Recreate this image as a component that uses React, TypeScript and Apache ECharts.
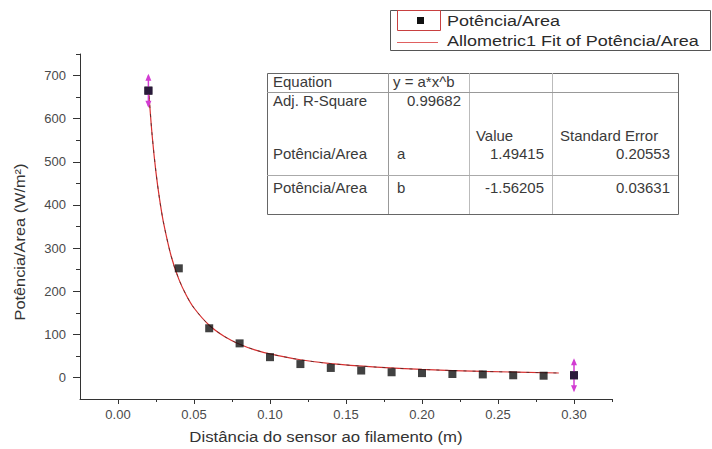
import React, { useEffect, useRef } from "react";
import * as echarts from "echarts";

// ---- data ----
const distances = [0.02, 0.04, 0.06, 0.08, 0.1, 0.12, 0.14, 0.16, 0.18, 0.2, 0.22, 0.24, 0.26, 0.28, 0.3];
const powerPerArea = [665, 253, 114, 79, 47, 31, 22, 16, 12, 10, 8, 7, 5, 4, 5];

// Allometric1 fit curve
const fitX = [0.02, 0.0225, 0.025, 0.0275, 0.03, 0.035, 0.04, 0.045, 0.05, 0.06, 0.07, 0.08, 0.09, 0.1, 0.12, 0.14, 0.17, 0.2, 0.24, 0.29];
const fitY = [673, 560, 475, 410, 358, 281, 228, 190, 161, 121, 95, 77, 64, 54.5, 41, 32, 24, 18.5, 14, 10.3];

const xMajorTicks = [0, 0.05, 0.1, 0.15, 0.2, 0.25, 0.3];
const xMinorTicks = [0.025, 0.075, 0.125, 0.175, 0.225, 0.275, 0.325];
const yMajorTicks = [0, 100, 200, 300, 400, 500, 600, 700];
const yMinorTicks = [50, 150, 250, 350, 450, 550, 650, 750];

const seriesName = "Potência/Area";
const fitName = "Allometric1 Fit of Potência/Area";
const xTitle = "Distância do sensor ao filamento (m)";
const yTitle = "Potência/Area (W/m²)";

// fit-result table
const tableEquation = ["Equation", "y = a*x^b"];
const tableRSquare = ["Adj. R-Square", "0.99682"];
const tableHeader = ["Value", "Standard Error"];
const tableRowA = ["Potência/Area", "a", "1.49415", "0.20553"];
const tableRowB = ["Potência/Area", "b", "-1.56205", "0.03631"];

const FONT = "'Liberation Sans', Arial, sans-serif";
const MAGENTA = "#d23cd2";
const FIT_RED = "#d83030";

function txt(text: string, x: number, y: number, opts: any = {}) {
  return {
    type: "text",
    x,
    y,
    scaleX: opts.scaleX ?? 1.07,
    scaleY: opts.scaleY ?? 1,
    rotation: opts.rotation ?? 0,
    silent: true,
    style: {
      text,
      fontFamily: FONT,
      fontSize: opts.fontSize ?? 14,
      fill: opts.fill ?? "#3a3a3a",
      align: opts.align ?? "left",
      verticalAlign: "middle",
    },
  };
}

function hline(x1: number, x2: number, y: number, stroke: string) {
  return { type: "line", silent: true, shape: { x1, y1: y, x2, y2: y }, style: { stroke, lineWidth: 1 } };
}
function vline(x: number, y1: number, y2: number, stroke: string) {
  return { type: "line", silent: true, shape: { x1: x, y1, x2: x, y2 }, style: { stroke, lineWidth: 1 } };
}

export default function App() {
  const ref = useRef<HTMLDivElement>(null);

  useEffect(() => {
    if (!ref.current) return;
    const chart = echarts.init(ref.current, undefined, { renderer: "svg" });

    const points = distances.map((x, i) => [x, powerPerArea[i]]);
    const fitPoints = fitX.map((x, i) => [x, fitY[i]]);
    const markerPoints = [points[0], points[points.length - 1]];

    const axisLineStyle = { color: "#333", width: 1 };
    const tickLabelStyle = { fontFamily: FONT, fontSize: 13, color: "#4a4a4a" };

    // table geometry
    const tL = 267, tR = 678, tT = 73, tB = 214;
    const c1 = 388, c2 = 469, c3 = 552;
    const r1 = 92, r2 = 175;

    const option: any = {
      animation: false,
      backgroundColor: "#ffffff",
      textStyle: { fontFamily: FONT },
      grid: { left: 80, right: 100, top: 54, bottom: 50, containLabel: false },
      xAxis: [
        {
          type: "value",
          min: -0.025,
          max: 0.325,
          axisLine: { show: true, onZero: false, lineStyle: axisLineStyle },
          axisTick: { show: true, length: 5, customValues: xMajorTicks, lineStyle: axisLineStyle },
          axisLabel: {
            show: true,
            customValues: xMajorTicks,
            margin: 9,
            formatter: (v: number) => v.toFixed(2),
            ...tickLabelStyle,
          },
          splitLine: { show: false },
        },
        {
          type: "value",
          position: "bottom",
          min: -0.025,
          max: 0.325,
          axisLine: { show: false, onZero: false },
          axisTick: { show: true, length: 3, customValues: xMinorTicks, lineStyle: axisLineStyle },
          axisLabel: { show: false },
          splitLine: { show: false },
        },
      ],
      yAxis: [
        {
          type: "value",
          position: "left",
          min: -50,
          max: 750,
          axisLine: { show: true, onZero: false, lineStyle: axisLineStyle },
          axisTick: { show: true, length: 7, customValues: yMajorTicks, lineStyle: axisLineStyle },
          axisLabel: {
            show: true,
            customValues: yMajorTicks,
            margin: 14,
            formatter: (v: number) => String(Math.round(v)),
            ...tickLabelStyle,
          },
          splitLine: { show: false },
        },
        {
          type: "value",
          position: "left",
          min: -50,
          max: 750,
          axisLine: { show: false, onZero: false },
          axisTick: { show: true, length: 4, customValues: yMinorTicks, lineStyle: axisLineStyle },
          axisLabel: { show: false },
          splitLine: { show: false },
        },
      ],
      series: [
        {
          name: fitName,
          type: "line",
          data: fitPoints,
          smooth: 0.3,
          showSymbol: false,
          symbol: "none",
          lineStyle: { color: FIT_RED, width: 1.2 },
          z: 2,
          silent: true,
        },
        {
          name: fitName + " overlay",
          type: "line",
          data: fitPoints,
          smooth: 0.3,
          showSymbol: false,
          symbol: "none",
          lineStyle: { color: "#3a2a2a", width: 1, type: [3, 6], opacity: 0.7 },
          z: 3,
          silent: true,
        },
        {
          name: seriesName,
          type: "scatter",
          data: points,
          symbol: "rect",
          symbolSize: 8,
          itemStyle: { color: "#111111" },
          z: 4,
          silent: true,
        },
        {
          name: "markers",
          type: "custom",
          data: markerPoints,
          z: 5,
          silent: true,
          renderItem: (params: any, api: any) => {
            const c = api.coord([api.value(0), api.value(1)]);
            const x = c[0], y = c[1];
            return {
              type: "group",
              children: [
                { type: "line", shape: { x1: x, y1: y - 15, x2: x, y2: y + 15 }, style: { stroke: MAGENTA, lineWidth: 1.5 } },
                { type: "polygon", shape: { points: [[x, y - 17], [x - 3, y - 10], [x + 3, y - 10]] }, style: { fill: MAGENTA } },
                { type: "polygon", shape: { points: [[x, y + 17], [x - 3, y + 10], [x + 3, y + 10]] }, style: { fill: MAGENTA } },
                { type: "rect", shape: { x: x - 4, y: y - 4, width: 8, height: 8 }, style: { fill: "#2a1a3a" } },
              ],
            };
          },
        },
      ],
      graphic: [
        // axis titles
        txt(xTitle, 326, 437, { align: "center", fontSize: 15, scaleX: 1.12, fill: "#333" }),
        txt(yTitle, 20, 242, { align: "center", fontSize: 15, scaleX: 1.09, rotation: Math.PI / 2, fill: "#333" }),

        // legend box
        {
          type: "rect",
          silent: true,
          shape: { x: 390.5, y: 10.5, width: 320, height: 40 },
          style: { fill: "#ffffff", stroke: "#555", lineWidth: 1 },
        },
        {
          type: "rect",
          silent: true,
          shape: { x: 397.5, y: 10.5, width: 43, height: 20 },
          style: { fill: "none", stroke: "#c84040", lineWidth: 1 },
        },
        {
          type: "rect",
          silent: true,
          shape: { x: 417, y: 17, width: 7, height: 7 },
          style: { fill: "#111" },
        },
        hline(397, 438, 42.5, "#e06060"),
        txt(seriesName, 447, 21, { fontSize: 15, scaleX: 1.2, fill: "#2a2a2a" }),
        txt(fitName, 447, 41, { fontSize: 15, scaleX: 1.2, fill: "#2a2a2a" }),

        // fit table
        {
          type: "rect",
          silent: true,
          shape: { x: tL + 0.5, y: tT + 0.5, width: tR - tL, height: tB - tT },
          style: { fill: "#ffffff", stroke: "#666", lineWidth: 1 },
        },
        vline(c1 + 0.5, tT, tB, "#999"),
        vline(c2 + 0.5, tT, tB, "#bbb"),
        vline(c3 + 0.5, tT, tB, "#bbb"),
        hline(tL, tR, r1 + 0.5, "#999"),
        hline(tL, tR, r2 + 0.5, "#aaa"),

        txt(tableEquation[0], 273, 82),
        txt(tableEquation[1], 393, 82),
        txt(tableRSquare[0], 273, 101),
        txt(tableRSquare[1], 461, 101, { align: "right" }),
        txt(tableHeader[0], 476, 136),
        txt(tableHeader[1], 560, 136),
        txt(tableRowA[0], 273, 154),
        txt(tableRowA[1], 397, 154),
        txt(tableRowA[2], 544, 154, { align: "right" }),
        txt(tableRowA[3], 670, 154, { align: "right" }),
        txt(tableRowB[0], 273, 188),
        txt(tableRowB[1], 397, 188),
        txt(tableRowB[2], 544, 188, { align: "right" }),
        txt(tableRowB[3], 670, 188, { align: "right" }),
      ],
    };

    chart.setOption(option);
    return () => {
      chart.dispose();
    };
  }, []);

  return (
    <div
      ref={ref}
      style={{ position: "fixed", left: 0, top: 0, width: 712, height: 449, background: "#fff" }}
    />
  );
}
